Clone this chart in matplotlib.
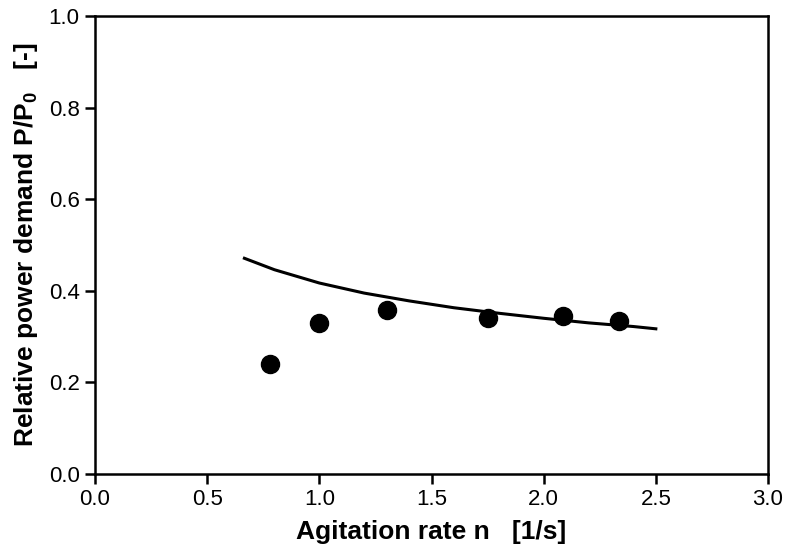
import matplotlib
matplotlib.use('Agg')
import matplotlib.pyplot as plt

plt.rcParams['font.family'] = ['Liberation Sans', 'DejaVu Sans']
plt.rcParams['mathtext.fontset'] = 'custom'
plt.rcParams['mathtext.rm'] = 'Liberation Sans:bold'
plt.rcParams['mathtext.it'] = 'Liberation Sans:bold'
plt.rcParams['mathtext.bf'] = 'Liberation Sans:bold'

# measured points
rate = [0.78, 1.00, 1.30, 1.75, 2.085, 2.335]
power = [0.241, 0.330, 0.357, 0.341, 0.345, 0.334]

# model curve
curve_n = [0.666, 0.8, 1.0, 1.2, 1.4, 1.6, 1.8, 2.0, 2.2, 2.4, 2.5]
curve_p = [0.471, 0.446, 0.417, 0.395, 0.378, 0.363, 0.351, 0.340, 0.330, 0.322, 0.317]

xticks = [0.0, 0.5, 1.0, 1.5, 2.0, 2.5, 3.0]
yticks = [0.0, 0.2, 0.4, 0.6, 0.8, 1.0]

fig = plt.figure(figsize=(7.87, 5.48), dpi=100)
ax = fig.add_axes([95/787, 1 - 474/548, (768 - 95)/787, (474 - 16)/548])

ax.plot(curve_n, curve_p, color='black', linewidth=2.2, zorder=2)
ax.plot(rate, power, 'o', color='black', markersize=13, zorder=3)

ax.set_xlim(0, 3.0)
ax.set_ylim(0, 1.0)
ax.set_xticks(xticks)
ax.set_yticks(yticks)
ax.set_xticklabels([f'{v:.1f}' for v in xticks])
ax.set_yticklabels([f'{v:.1f}' for v in yticks])
ax.tick_params(direction='out', length=7, width=1.8, labelsize=16, pad=4)

for spine in ax.spines.values():
    spine.set_linewidth(1.8)

ax.set_xlabel('Agitation rate n   [1/s]', fontsize=19, fontweight='bold', labelpad=7)
ax.set_ylabel('Relative power demand P/P$_0$   [-]', fontsize=19, fontweight='bold', labelpad=6)

plt.savefig('out.png', dpi=100)
